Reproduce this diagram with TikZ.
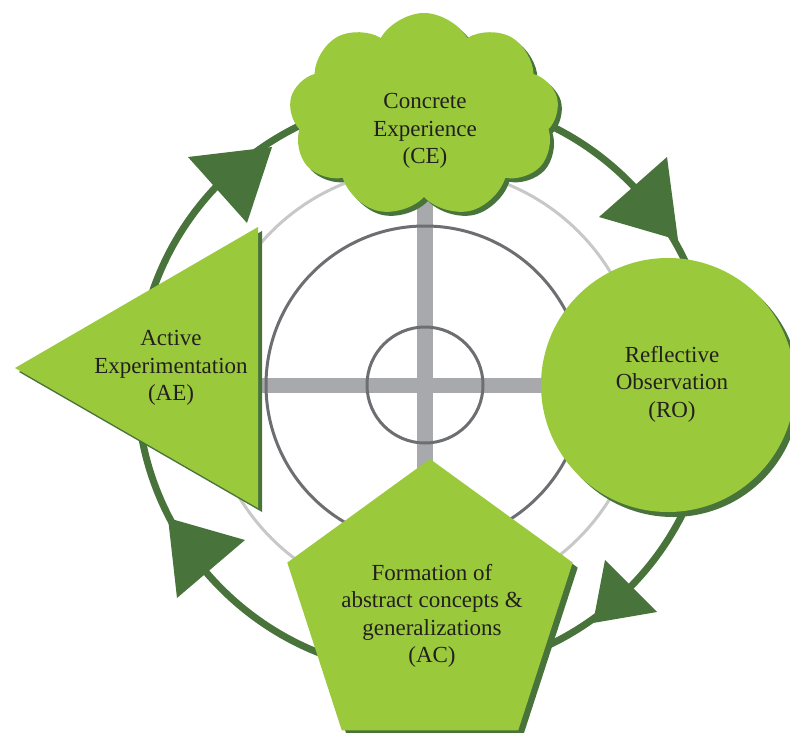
\documentclass[tikz,border=0pt]{standalone}
\usepackage{fontspec}
\setmainfont{Liberation Serif}
\usetikzlibrary{shapes.symbols}
\definecolor{lgreen}{RGB}{154,201,60}
\definecolor{dgreen}{RGB}{72,115,58}
\definecolor{barg}{RGB}{167,169,172}
\definecolor{midg}{RGB}{109,110,113}
\definecolor{lightg}{RGB}{200,200,200}
\definecolor{txt}{RGB}{35,31,32}
\begin{document}
\begin{tikzpicture}[x=1pt,y=-1pt,
  lbl/.style={align=center,text=txt,font=\fontsize{23}{27.5}\selectfont,inner sep=0pt},
  cloudshape/.style={cloud,cloud puffs=9,cloud puff arc=120,aspect=1.3,minimum width=270pt,minimum height=204pt,inner sep=0pt},
  arrowhd/.style={fill=dgreen},
  shadowfill/.style={fill=dgreen},
  mainfill/.style={fill=lgreen}]
\useasboundingbox (0,0) rectangle (790,733);
\coordinate (c) at (425,385);
% circles
\draw[lightg,line width=3pt] (c) circle[radius=217];
\draw[dgreen,line width=7pt] (c) circle[radius=288];
\fill[barg] (417,200) rectangle (433,470);
\fill[barg] (255,378) rectangle (550,393);
\draw[midg,line width=3pt] (c) circle[radius=159];
\draw[midg,line width=3pt] (c) circle[radius=58];
% arrowheads
\fill[arrowhd] (188,157) -- (272,147) -- (247,223) -- cycle;
\fill[arrowhd] (667,157) -- (599,217) -- (678,240) -- cycle;
\fill[arrowhd] (605,560) -- (657,612) -- (593,623) -- cycle;
\fill[arrowhd] (245,540) -- (177,598) -- (168,518) -- cycle;
% cloud CE
\node[cloudshape,shadowfill] (ceshadow) at (428,119) {};
\node[cloudshape,mainfill] (cecloud) at (424,115) {};
\node[lbl] (ce) at (425,131) {Concrete\\Experience\\(CE)};
% triangle AE
\fill[shadowfill] (19,372) -- (262,231) -- (262,512) -- cycle;
\fill[mainfill] (15,368) -- (258,227) -- (258,508) -- cycle;
\node[lbl] (ae) at (171,368) {Active\\Experimentation\\(AE)};
% circle RO
\fill[shadowfill] (673,390) circle[radius=127];
\fill[mainfill] (668,385) circle[radius=127];
\node[lbl] (ro) at (672,384) {Reflective\\Observation\\(RO)};
% pentagon AC
\fill[shadowfill] (435,464) -- (577.7,567.6) -- (523.2,735.4) -- (346.8,735.4) -- (292.3,567.6) -- cycle;
\fill[mainfill] (430,459) -- (572.7,562.6) -- (518.2,730.4) -- (341.8,730.4) -- (287.3,562.6) -- cycle;
\node[lbl] (ac) at (432,616) {Formation of\\abstract concepts \&\\generalizations\\(AC)};
\end{tikzpicture}
\end{document}
